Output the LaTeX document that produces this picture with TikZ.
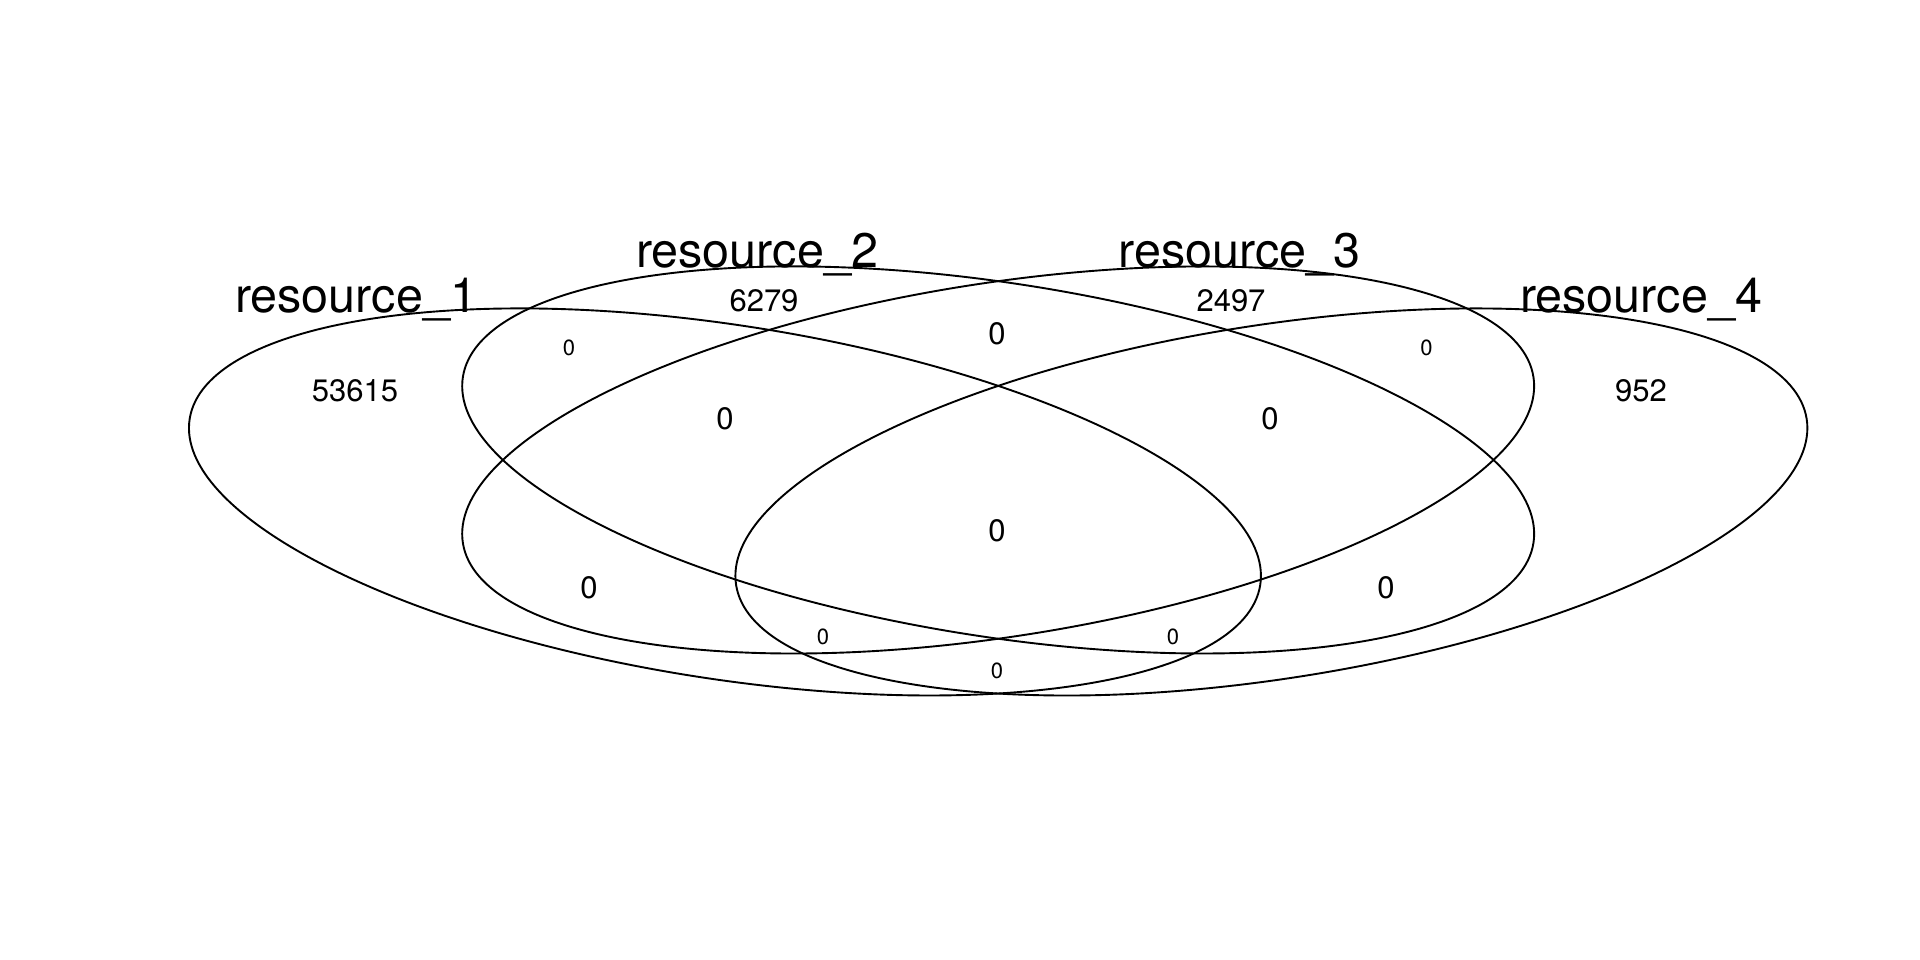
\documentclass[tikz,border=0pt]{standalone}
\usepackage{fontspec}
\setmainfont{TeX Gyre Heros}
\begin{document}
\begin{tikzpicture}[x=1pt,y=-1pt,
  setline/.style={line width=1.9pt, black},
  title/.style={anchor=base, inner sep=0pt, font=\fontsize{48.5}{48.5}\selectfont},
  count/.style={anchor=center, inner sep=0pt, font=\fontsize{31}{31}\selectfont},
  small/.style={anchor=center, inner sep=0pt, font=\fontsize{22}{22}\selectfont}]
\useasboundingbox[fill=white] (0,0) rectangle (1920,960);
% ellipse centres
\coordinate (c1) at (725,502);
\coordinate (c2) at (998.25,460);
\coordinate (c3) at (998.25,460);
\coordinate (c4) at (1271.5,502);
\draw[setline, rotate around={-8.81:(c1)}] (c1) ellipse [x radius=541.7pt, y radius=176.9pt];
\draw[setline, rotate around={-8.81:(c2)}] (c2) ellipse [x radius=541.7pt, y radius=176.9pt];
\draw[setline, rotate around={8.81:(c3)}] (c3) ellipse [x radius=541.7pt, y radius=176.9pt];
\draw[setline, rotate around={8.81:(c4)}] (c4) ellipse [x radius=541.7pt, y radius=176.9pt];
% titles
\node[title] (t1) at (356,312) {resource\_1};
\node[title] (t2) at (757,267) {resource\_2};
\node[title] (t3) at (1239.5,267) {resource\_3};
\node[title] (t4) at (1641,312) {resource\_4};
% counts
\node[count] (n1) at (355,391) {53615};
\node[count] (n2) at (764,301) {6279};
\node[count] (n3) at (1231,301) {2497};
\node[count] (n4) at (1641,391) {952};
\node[count] (n23) at (997,334) {0};
\node[count] (n12) at (725,419) {0};
\node[count] (n34) at (1270,419) {0};
\node[count] (n1234) at (997,531) {0};
\node[count] (n13) at (589,588) {0};
\node[count] (n24) at (1386,588) {0};
\node[small] (s1) at (569,348) {0};
\node[small] (s2) at (1426.5,348) {0};
\node[small] (s3) at (823,637) {0};
\node[small] (s4) at (1173,637) {0};
\node[small] (s5) at (997,671) {0};
\end{tikzpicture}
\end{document}
